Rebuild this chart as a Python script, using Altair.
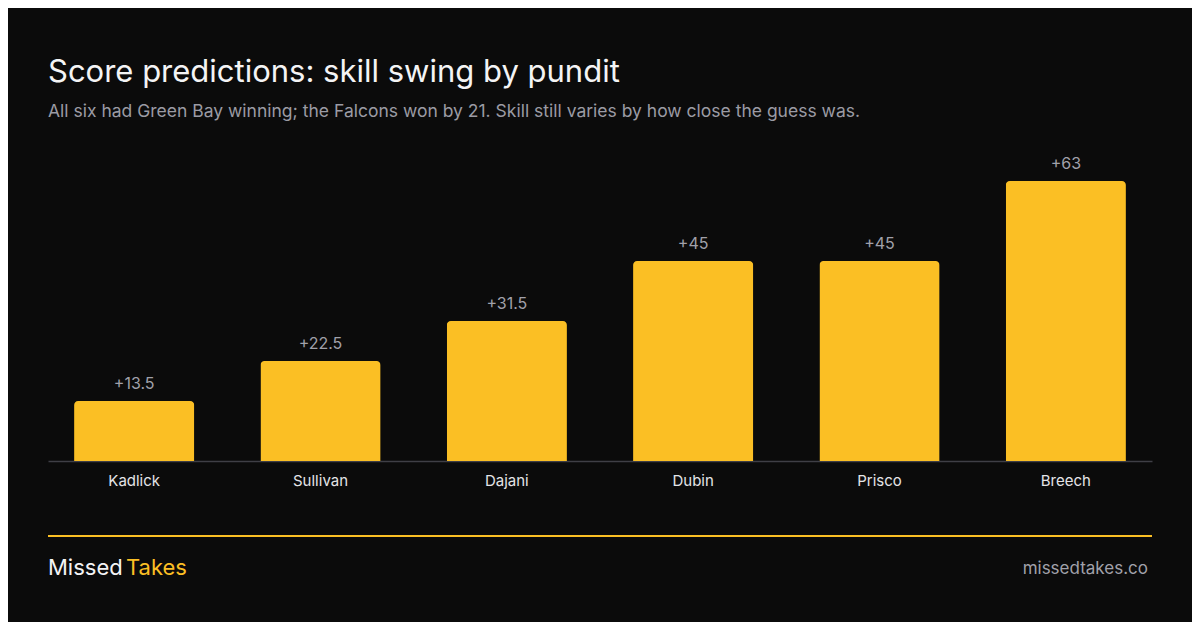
import altair as alt
import pandas as pd

# Score prediction skill swing, one bar per pundit
pundits = ["Kadlick", "Sullivan", "Dajani", "Dubin", "Prisco", "Breech"]
swing = [13.5, 22.5, 31.5, 45, 45, 63]

title_text = "Score predictions: skill swing by pundit"
subtitle_text = ("All six had Green Bay winning; the Falcons won by 21. "
                 "Skill still varies by how close the guess was.")

BG = "#0b0b0b"
GOLD = "#fbbf24"
GREY = "#a1a1aa"
FONT = "Inter"

df = pd.DataFrame({"pundit": pundits, "swing": swing})

W, H = 1104, 280

x_enc = alt.X("pundit:N", sort=pundits, title=None,
              scale=alt.Scale(paddingInner=0.355, paddingOuter=0.14),
              axis=alt.Axis(labelAngle=0, labelFontSize=15, labelColor="#e4e4e7",
                            labelFont=FONT, labelPadding=12, ticks=False,
                            domainColor="#3f3f46", domainWidth=1.5))
y_enc = alt.Y("swing:Q", title=None, axis=None,
              scale=alt.Scale(domain=[0, 63], nice=False, zero=True))

base = alt.Chart(df)

bars = base.mark_bar(color=GOLD, cornerRadiusTopLeft=4,
                     cornerRadiusTopRight=4).encode(x=x_enc, y=y_enc)

values = base.mark_text(baseline="bottom", dy=-9, fontSize=16, font=FONT,
                        color=GREY).encode(
    x=alt.X("pundit:N", sort=pundits),
    y="swing:Q",
    text=alt.Text("swing:Q", format="+"),
)

title = alt.Chart(pd.DataFrame({"t": [title_text]})).mark_text(
    align="left", baseline="alphabetic", fontSize=31, font=FONT, color="#f4f4f5"
).encode(x=alt.value(0), y=alt.value(-99), text="t:N")

subtitle = alt.Chart(pd.DataFrame({"t": [subtitle_text]})).mark_text(
    align="left", baseline="alphabetic", fontSize=17.5, font=FONT, color="#9b9ba4"
).encode(x=alt.value(0), y=alt.value(-64), text="t:N")

footer_line = alt.Chart(pd.DataFrame({"a": [0]})).mark_rule(
    color=GOLD, strokeWidth=2
).encode(x=alt.value(0), x2=alt.value(W), y=alt.value(355))

brand1 = alt.Chart(pd.DataFrame({"t": ["Missed"]})).mark_text(
    align="left", baseline="alphabetic", fontSize=22, font=FONT, color="#f4f4f5"
).encode(x=alt.value(0), y=alt.value(394), text="t:N")

brand2 = alt.Chart(pd.DataFrame({"t": ["Takes"]})).mark_text(
    align="left", baseline="alphabetic", fontSize=22, font=FONT, color=GOLD
).encode(x=alt.value(78), y=alt.value(394), text="t:N")

site = alt.Chart(pd.DataFrame({"t": ["missedtakes.co"]})).mark_text(
    align="right", baseline="alphabetic", fontSize=17, font=FONT, color=GREY
).encode(x=alt.value(W - 4), y=alt.value(393), text="t:N")

chart = alt.layer(
    bars, values, title, subtitle, footer_line, brand1, brand2, site
).properties(
    width=W,
    height=H,
    autosize=alt.AutoSizeParams(type="none"),
    padding={"left": 40, "top": 173, "right": 40, "bottom": 161},
    background=BG,
).configure_view(strokeWidth=0)

chart.save("out.html", embed_options={"renderer": "svg", "actions": False})
